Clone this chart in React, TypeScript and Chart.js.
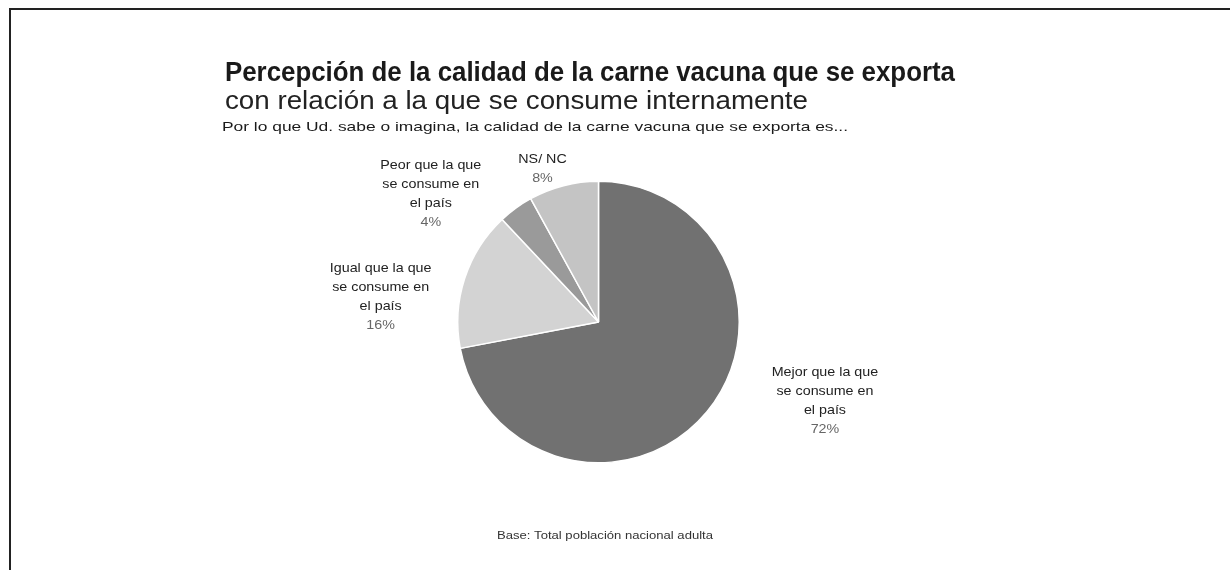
import React, { useEffect, useRef } from "react";
import { Chart, registerables } from "chart.js";

Chart.register(...registerables);

const categories = [
  "Mejor que la que se consume en el país",
  "Igual que la que se consume en el país",
  "Peor que la que se consume en el país",
  "NS/ NC",
];
const values = [72, 16, 4, 8];
const labelLines = [
  ["Mejor que la que", "se consume en", "el país"],
  ["Igual que la que", "se consume en", "el país"],
  ["Peor que la que", "se consume en", "el país"],
  ["NS/ NC"],
];
const sliceColors = ["#717171", "#d3d3d3", "#9a9a9a", "#c4c4c4"];
const titleLine1 = "Percepción de la calidad de la carne vacuna que se exporta";
const titleLine2 = "con relación a la que se consume internamente";
const subtitle = "Por lo que Ud. sabe o imagina, la calidad de la carne vacuna que se exporta es...";
const footnote = "Base: Total población nacional adulta";

// label placement nudges (style), relative to the slice's outer mid-point
const labelNudges = [
  { dx: 118, dy: -11 },
  { dx: -84, dy: 18 },
  { dx: -85, dy: -14 },
  { dx: -21, dy: -17 },
];

function fitText(ctx: CanvasRenderingContext2D, text: string, x: number, y: number, width: number, font: string, color: string) {
  ctx.save();
  ctx.font = font;
  ctx.fillStyle = color;
  ctx.textAlign = "left";
  ctx.textBaseline = "alphabetic";
  const w = ctx.measureText(text).width;
  const s = width / w;
  ctx.translate(x, y);
  ctx.scale(s, 1);
  ctx.fillText(text, 0, 0);
  ctx.restore();
}

const textPlugin = {
  id: "textPlugin",
  afterDraw(chart: any) {
    const ctx: CanvasRenderingContext2D = chart.ctx;
    const FF = "'Liberation Sans', Arial, sans-serif";
    fitText(ctx, titleLine1, 225, 81, 730, `bold 27px ${FF}`, "#1a1a1a");
    fitText(ctx, titleLine2, 225, 109, 583, `25px ${FF}`, "#222222");
    fitText(ctx, subtitle, 222, 131, 626, `13px ${FF}`, "#1a1a1a");
    fitText(ctx, footnote, 497, 539, 216, `11px ${FF}`, "#333333");

    const meta = chart.getDatasetMeta(0);
    meta.data.forEach((arc: any, i: number) => {
      const p = arc.getProps(["x", "y", "startAngle", "endAngle", "outerRadius"], true);
      const mid = (p.startAngle + p.endAngle) / 2;
      const px = p.x + Math.cos(mid) * p.outerRadius;
      const py = p.y + Math.sin(mid) * p.outerRadius;
      const cx = px + labelNudges[i].dx;
      const cy = py + labelNudges[i].dy;
      const lines = [...labelLines[i], `${values[i]}%`];
      const lh = 19;
      const y0 = cy - ((lines.length - 1) / 2) * lh;
      ctx.save();
      ctx.font = `13px ${FF}`;
      ctx.textAlign = "center";
      ctx.textBaseline = "middle";
      lines.forEach((ln, j) => {
        ctx.fillStyle = j === lines.length - 1 ? "#666666" : "#222222";
        const w = ctx.measureText(ln).width;
        const target = w * 1.1;
        ctx.save();
        ctx.translate(cx, y0 + j * lh);
        ctx.scale(target / w, 1);
        ctx.fillText(ln, 0, 0);
        ctx.restore();
      });
      ctx.restore();
    });
  },
};

export default function App() {
  const ref = useRef<HTMLCanvasElement | null>(null);
  useEffect(() => {
    if (!ref.current) return;
    const chart = new Chart(ref.current, {
      type: "pie",
      data: {
        labels: categories,
        datasets: [
          {
            data: values,
            backgroundColor: sliceColors,
            borderColor: "#ffffff",
            borderWidth: 1.5,
          },
        ],
      },
      options: {
        responsive: false,
        animation: false,
        layout: { padding: { left: 457, right: 490, top: 180, bottom: 106 } },
        plugins: {
          legend: { display: false },
          tooltip: { enabled: false },
          title: { display: false },
        },
      },
      plugins: [textPlugin],
    });
    return () => chart.destroy();
  }, []);

  return (
    <div style={{ position: "fixed", left: 0, top: 0, width: 1230, height: 570, background: "#ffffff", overflow: "hidden" }}>
      <div
        style={{
          position: "absolute",
          left: 9,
          top: 8,
          right: -10,
          bottom: -10,
          borderTop: "2px solid #222",
          borderLeft: "2px solid #222",
        }}
      />
      <canvas ref={ref} width={1230} height={570} style={{ position: "absolute", left: 0, top: 0 }} />
    </div>
  );
}
